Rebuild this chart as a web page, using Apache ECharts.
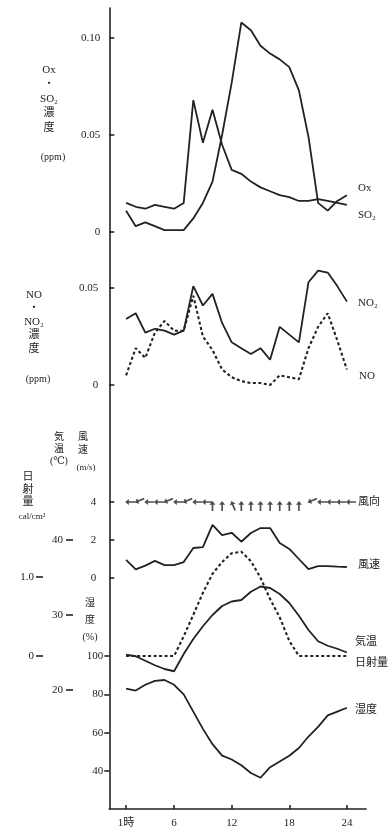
<!DOCTYPE html>
<html>
<head>
<meta charset="utf-8">
<script src="https://cdn.jsdelivr.net/npm/echarts@6/dist/echarts.min.js"></script>
<style>
  html, body { margin: 0; padding: 0; background: #ffffff; }
  #c { width: 390px; height: 837px; }
</style>
</head>
<body>
<div id="c"></div>
<script>
// Hourly observations, 1時 – 24時
const hours = [1, 2, 3, 4, 5, 6, 7, 8, 9, 10, 11, 12, 13, 14, 15, 16, 17, 18, 19, 20, 21, 22, 23, 24];

// Ox and SO2 concentration (ppm)
const ox  = [0.011, 0.003, 0.005, 0.003, 0.001, 0.001, 0.001, 0.007, 0.015, 0.026, 0.050, 0.077,
             0.108, 0.104, 0.096, 0.092, 0.089, 0.085, 0.073, 0.049, 0.015, 0.011, 0.016, 0.019];
const so2 = [0.015, 0.013, 0.012, 0.014, 0.013, 0.012, 0.015, 0.068, 0.046, 0.063, 0.045, 0.032,
             0.030, 0.026, 0.023, 0.021, 0.019, 0.018, 0.016, 0.016, 0.017, 0.016, 0.015, 0.014];

// NO and NO2 concentration (ppm)
const no2 = [0.034, 0.037, 0.027, 0.029, 0.028, 0.026, 0.028, 0.051, 0.041, 0.047, 0.032, 0.022,
             0.019, 0.016, 0.019, 0.013, 0.030, 0.026, 0.022, 0.053, 0.059, 0.058, 0.051, 0.043];
const no  = [0.005, 0.019, 0.014, 0.027, 0.033, 0.028, 0.028, 0.046, 0.025, 0.018, 0.008, 0.004,
             0.002, 0.001, 0.001, 0.000, 0.005, 0.004, 0.003, 0.019, 0.030, 0.037, 0.023, 0.008];

// Wind direction (degrees the wind blows from) and wind speed (m/s)
const windFrom  = [90, 68, 90, 90, 68, 90, 68, 90, 90, 180, 180, 158, 180, 180, 180, 180, 180, 180, 180,
                   68, 90, 90, 90, 90];
const windSpeed = [0.95, 0.45, 0.65, 0.90, 0.68, 0.68, 0.84, 1.58, 1.63, 2.80, 2.26, 2.38,
                   1.91, 2.37, 2.63, 2.63, 1.84, 1.53, 1.00, 0.47, 0.63, 0.63, 0.60, 0.58];

// Air temperature (℃), solar radiation (cal/cm²), relative humidity (%)
const temperature = [24.7, 24.5, 23.9, 23.3, 22.8, 22.5, 24.8, 26.8, 28.5, 30.0, 31.2, 31.8,
                     32.0, 33.1, 33.8, 33.6, 32.8, 31.6, 29.9, 28.0, 26.5, 25.9, 25.5, 25.0];
const solar       = [0, 0, 0, 0, 0, 0, 0.25, 0.52, 0.80, 1.04, 1.19, 1.30,
                     1.32, 1.20, 0.99, 0.72, 0.49, 0.19, 0, 0, 0, 0, 0, 0];
const humidity    = [83, 82, 85, 87, 87.5, 85, 80, 71, 62, 54, 48, 46,
                     43, 39, 36.5, 42, 45, 48, 52, 58, 63, 69, 71, 73];

// Axis tick values
const hourTicks     = [1, 6, 12, 18, 24];
const gasTicksTop   = [0, 0.05, 0.10];
const gasTicksNO    = [0, 0.05];
const speedTicks    = [0, 2, 4];
const tempTicks     = [20, 30, 40];
const solarTicks    = [0, 1.0];
const humidityTicks = [40, 60, 80, 100];

const ink = '#222222';
const serif = '"Liberation Serif","DejaVu Serif","Noto Sans CJK JP",serif';

const pairs = arr => hours.map((h, i) => [h, arr[i]]);

function lineSeries(name, arr, xi, yi, dashed) {
  return {
    name, type: 'line', xAxisIndex: xi, yAxisIndex: yi,
    data: pairs(arr), symbol: 'none', silent: true,
    lineStyle: { color: ink, width: dashed ? 2.1 : 1.8, type: dashed ? [3, 2.5] : 'solid' }
  };
}

const labelStyle = { color: ink, fontFamily: serif, fontSize: 11 };

function yAxisDef(opt) {
  const ticks = opt.ticks;
  return {
    type: 'value', gridIndex: opt.grid, min: opt.min, max: opt.max,
    position: 'left', offset: opt.offset || 0,
    axisLine: { show: !!opt.line, onZero: false, lineStyle: { color: ink, width: 1.6 } },
    axisTick: { show: true, inside: !!opt.inside, length: opt.tickLen || 5, customValues: ticks,
                lineStyle: { color: ink, width: 1.6 } },
    axisLabel: Object.assign({ customValues: ticks, margin: opt.margin, formatter: opt.fmt || (v => String(v)) }, labelStyle),
    splitLine: { show: false }
  };
}

const xBase = { type: 'value', min: -0.75, max: 26, splitLine: { show: false } };

const gridLeft = 109.3, gridRight = 23.9;

function txt(text, x, y, size, align, lh) {
  return {
    type: 'text', x, y, silent: true,
    style: { text, fill: ink, fontSize: size, fontFamily: serif, align: align || 'center',
             verticalAlign: 'middle', lineHeight: lh || size + 2 }
  };
}

// wind direction glyphs: arrow pointing downwind, head on the row
const arrowPath = 'path://M5,0L10,6L6.4,6L6.4,16L3.6,16L3.6,6L0,6Z';
const windGlyphs = hours.map((h, i) => {
  const head = (windFrom[i] + 180) % 360;
  const rad = head * Math.PI / 180;
  return {
    value: [h, 4],
    symbolRotate: -head,
    symbolOffset: [-Math.sin(rad) * 4, Math.cos(rad) * 4]
  };
});

const option = {
  animation: false,
  backgroundColor: '#ffffff',
  grid: [
    { left: gridLeft, right: gridRight, top: 8, height: 224 },
    { left: gridLeft, right: gridRight, top: 232, height: 153 },
    { left: gridLeft, right: gridRight, top: 385, height: 424 }
  ],
  xAxis: [
    Object.assign({ gridIndex: 0, show: false }, xBase),
    Object.assign({ gridIndex: 1, show: false }, xBase),
    Object.assign({
      gridIndex: 2,
      axisLine: { onZero: false, lineStyle: { color: ink, width: 1.6 } },
      axisTick: { inside: true, length: 4, customValues: hourTicks, lineStyle: { color: ink, width: 1.6 } },
      axisLabel: Object.assign({ customValues: hourTicks, margin: 9,
        formatter: v => (v === 1 ? '1時' : String(v)) }, labelStyle)
    }, xBase)
  ],
  yAxis: [
    yAxisDef({ grid: 0, min: 0, max: 0.1155, ticks: gasTicksTop, line: true, inside: true, margin: 9,
               fmt: v => (v === 0 ? '0' : v.toFixed(2)) }),
    yAxisDef({ grid: 1, min: 0, max: 0.0789, ticks: gasTicksNO, line: true, inside: true, margin: 11,
               fmt: v => (v === 0 ? '0' : v.toFixed(2)) }),
    // wind speed (m/s)
    yAxisDef({ grid: 2, min: -12.158, max: 10.158, ticks: speedTicks, line: true, inside: true, margin: 13 }),
    // air temperature (℃)
    yAxisDef({ grid: 2, min: 4.133, max: 60.667, ticks: tempTicks, offset: 36.3, tickLen: 7, margin: 10 }),
    // solar radiation (cal/cm²)
    yAxisDef({ grid: 2, min: -1.937, max: 3.430, ticks: solarTicks, offset: 66.3, tickLen: 7, margin: 9,
               fmt: v => (v === 0 ? '0' : v.toFixed(1)) }),
    // relative humidity (%)
    yAxisDef({ grid: 2, min: 20.19, max: 241.4, ticks: humidityTicks, tickLen: 5, margin: 6 })
  ],
  series: [
    lineSeries('Ox', ox, 0, 0, false),
    lineSeries('SO2', so2, 0, 0, false),
    lineSeries('NO2', no2, 1, 1, false),
    lineSeries('NO', no, 1, 1, true),
    {
      name: '風向', type: 'scatter', xAxisIndex: 2, yAxisIndex: 2, silent: true,
      symbol: arrowPath, symbolSize: [6, 10], itemStyle: { color: ink },
      data: windGlyphs
    },
    lineSeries('風速', windSpeed, 2, 2, false),
    lineSeries('気温', temperature, 2, 3, false),
    lineSeries('日射量', solar, 2, 4, true),
    lineSeries('湿度', humidity, 2, 5, false)
  ],
  graphic: [
    // axis names on the left
    txt('Ox\n・\nSO₂\n濃\n度', 49, 99, 11, 'center', 14.5),
    txt('(ppm)', 53, 157, 10, 'center', 12),
    txt('NO\n・\nNO₂\n濃\n度', 34, 322, 11, 'center', 13.5),
    txt('(ppm)', 38, 379, 10, 'center', 12),
    txt('気\n温\n(℃)', 59, 449, 10, 'center', 12),
    txt('風\n速', 83, 444, 10, 'center', 13),
    txt('(m/s)', 86, 468, 9, 'center', 11),
    txt('日\n射\n量', 28, 490, 11, 'center', 12.5),
    txt('cal/cm²', 32, 517, 9, 'center', 11),
    txt('湿\n度\n(%)', 90, 620, 10, 'center', 17),
    // series names on the right
    txt('Ox', 358, 188, 11, 'left', 13),
    txt('SO₂', 358, 215, 11, 'left', 13),
    txt('NO₂', 358, 303, 11, 'left', 13),
    txt('NO', 359, 376, 11, 'left', 13),
    txt('風向', 358, 502, 11, 'left'),
    txt('風速', 358, 565, 11, 'left'),
    txt('気温', 355, 642, 11, 'left'),
    txt('日射量', 355, 663, 11, 'left'),
    txt('湿度', 355, 710, 11, 'left')
  ]
};

const chart = echarts.init(document.getElementById('c'), null, { renderer: 'canvas' });
chart.setOption(option);
</script>
</body>
</html>
